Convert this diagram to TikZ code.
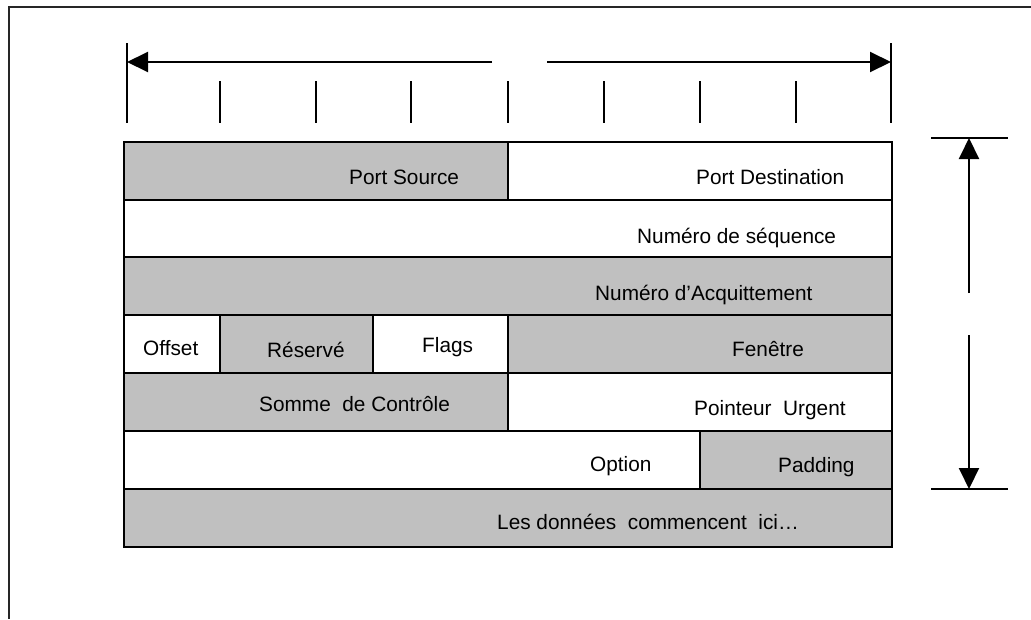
\documentclass[tikz,border=0pt]{standalone}
\usepackage{fontspec}
\setmainfont{Liberation Sans}
\usetikzlibrary{arrows.meta}
\definecolor{cellgray}{RGB}{192,192,192}
\tikzset{
  rule/.style={line width=2pt, black},
  cellfill/.style={fill=cellgray},
  cellline/.style={draw=black, line width=2.2pt},
  lbl/.style={anchor=base west, inner sep=0pt, font=\fontsize{20.8}{25}\selectfont},
  bigtip/.style={-{Triangle[length=21pt,width=20pt]}, line width=2pt},
}
\begin{document}
\begin{tikzpicture}[x=1pt, y=-1pt]
\useasboundingbox (0,0) rectangle (1031,619);
\fill[white] (0,0) rectangle (1031,619);

% page frame (top and left edges)
\draw[line width=2.2pt, black!85] (1031,7) -- (9,7) -- (9,619);

% width scale: 32 bits in eight ticks
\coordinate (wl) at (127,62);
\coordinate (wr) at (891,62);
\coordinate (gl) at (492,62);
\coordinate (gr) at (547,62);
\draw[bigtip] (gl) -- (wl);
\draw[bigtip] (gr) -- (wr);
\draw[rule] (127,43) -- (127,123);
\draw[rule] (891,43) -- (891,123);
\foreach \x in {220,316,411,508,604,700,796}
  \draw[rule] (\x,81) -- (\x,123);

% header cells
\path[cellfill] (124,142) rectangle (508,200);
\path[cellfill] (124,257) rectangle (892,315);
\path[cellfill] (220,315) rectangle (373,373);
\path[cellfill] (508,315) rectangle (892,373);
\path[cellfill] (124,373) rectangle (508,431);
\path[cellfill] (700,431) rectangle (892,489);
\path[cellfill] (124,489) rectangle (892,547);

% cell borders
\draw[cellline] (124,142) rectangle (892,547);
\foreach \y in {200,257,315,373,431,489}
  \draw[cellline] (124,\y) -- (892,\y);
\draw[cellline] (508,142) -- (508,200);
\draw[cellline] (220,315) -- (220,373);
\draw[cellline] (373,315) -- (373,373);
\draw[cellline] (508,315) -- (508,431);
\draw[cellline] (700,431) -- (700,489);

% field names
\node[lbl] (psrc) at (349,184) {Port Source};
\node[lbl] (pdst) at (696,184) {Port Destination};
\node[lbl] (seq)  at (637,243) {Numéro de séquence};
\node[lbl] (ack)  at (595,300) {Numéro d’Acquittement};
\node[lbl] (off)  at (143,355) {Offset};
\node[lbl] (res)  at (267,357) {Réservé};
\node[lbl] (flg)  at (422,352) {Flags};
\node[lbl] (win)  at (732,356) {Fenêtre};
\node[lbl] (chk)  at (259,411) {Somme\ \ de Contrôle};
\node[lbl] (urg)  at (694,415) {Pointeur\ \ Urgent};
\node[lbl] (opt)  at (590,471) {Option};
\node[lbl] (pad)  at (778,472) {Padding};
\node[lbl] (data) at (497,529) {Les données\ \ commencent\ \ ici…};

% header height scale
\coordinate (ht) at (969,138);
\coordinate (hb) at (969,489);
\coordinate (hu) at (969,293);
\coordinate (hd) at (969,335);
\draw[rule] (931,138) -- (1008,138);
\draw[rule] (931,489) -- (1008,489);
\draw[bigtip] (hu) -- (ht);
\draw[bigtip] (hd) -- (hb);
\end{tikzpicture}
\end{document}
